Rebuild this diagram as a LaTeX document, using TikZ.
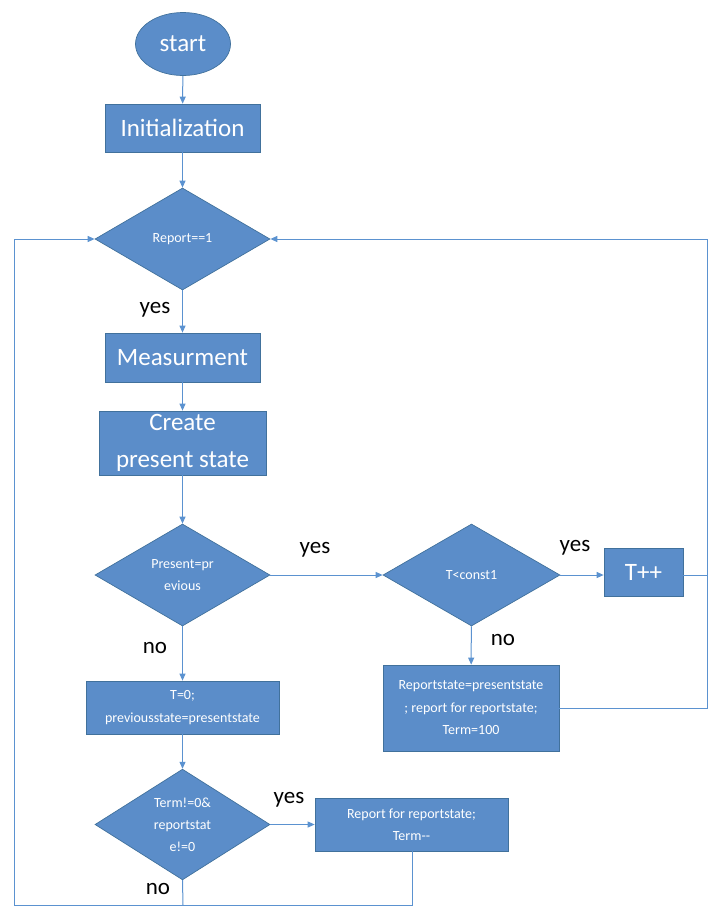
\documentclass[tikz,border=0pt]{standalone}
\usepackage{fontspec}
\setmainfont{Carlito}
\usetikzlibrary{shapes.geometric,arrows.meta}
\definecolor{boxfill}{RGB}{91,141,201}
\definecolor{boxline}{RGB}{65,113,156}
\definecolor{conn}{RGB}{91,146,208}
\begin{document}
\begin{tikzpicture}[x=1pt,y=-1pt,
  base/.style={draw=boxline,fill=boxfill,text=white,inner sep=0pt,align=center,line width=0.7pt},
  proc/.style={base,rectangle},
  dec/.style={base,diamond,minimum width=175pt,minimum height=102pt,font=\fontsize{14}{22}\selectfont},
  big/.style={font=\fontsize{25}{37}\selectfont},
  small/.style={font=\fontsize{14}{22.5}\selectfont},
  lbl/.style={text=black,inner sep=0pt,font=\fontsize{23}{26}\selectfont},
  conn/.style={draw=conn,line width=1pt},
  arr/.style={conn,-{Triangle[length=7pt,width=6pt]}}]
\useasboundingbox (0,0) rectangle (715,908);

\node[base,ellipse,minimum width=95pt,minimum height=63pt,big] (start) at (183,44) {start};
\node[proc,big,minimum width=155pt,minimum height=48pt] (init) at (182.5,128) {Initialization};
\node[dec] (rep1) at (182.5,239) {Report==1};
\node[proc,big,minimum width=155pt,minimum height=49pt] (meas) at (182.5,357.5) {Measurment};
\node[proc,big,minimum width=167pt,minimum height=64pt] (create) at (182.5,443) {Create\\present state};
\node[dec] (pres) at (182.5,575) {Present=pr\\evious};
\node[dec,minimum width=177pt] (tc) at (471.5,575) {T<const1};
\node[proc,big,minimum width=79pt,minimum height=48pt] (tpp) at (643.5,572) {T++};
\node[proc,small,minimum width=176pt,minimum height=86pt] (rst) at (471,708) {Reportstate=presentstate\\; report for reportstate;\\Term=100};
\node[proc,small,minimum width=193pt,minimum height=53pt] (t0) at (182.5,707.5) {T=0;\\previousstate=presentstate};
\node[dec,minimum height=101pt] (term) at (182.5,824.5) {Term!=0\&\\reportstat\\e!=0};
\node[proc,small,minimum width=193pt,minimum height=53pt] (rfr) at (411.5,824.5) {Report for reportstate;\\Term-{}-};

\coordinate (ll) at (14,905);
\coordinate (rr) at (707,575);
\coordinate (tb) at (183,905);
\coordinate (rb) at (412,905);

\draw[arr] (start) -- (init);
\draw[arr] (init) -- (rep1);
\draw[arr] (rep1) -- (meas);
\draw[arr] (meas) -- (create);
\draw[arr] (create) -- (pres);
\draw[arr] (pres) -- (tc);
\draw[arr] (tc.east) -- (tc.east -| tpp.west);
\draw[arr] (tc) -- (rst);
\draw[arr] (pres) -- (t0);
\draw[arr] (t0) -- (term);
\draw[arr] (term) -- (rfr);
\draw[conn] (term.south) -- (tb);
\draw[arr] (rb |- rfr.south) -- (rb) -- (ll) -- (ll |- rep1.west) -- (rep1.west);
\draw[conn] (tc.east -| tpp.east) -- (rr);
\draw[arr] (rst.east) -- (rst.east -| rr) -- (rr |- rep1.east) -- (rep1.east);

\node[lbl] (l1) at (155,310) {yes};
\node[lbl] (l2) at (315,550) {yes};
\node[lbl] (l3) at (575,548) {yes};
\node[lbl] (l4) at (503,640) {no};
\node[lbl] (l5) at (155,648) {no};
\node[lbl] (l6) at (289,800) {yes};
\node[lbl] (l7) at (158,889) {no};
\end{tikzpicture}
\end{document}
